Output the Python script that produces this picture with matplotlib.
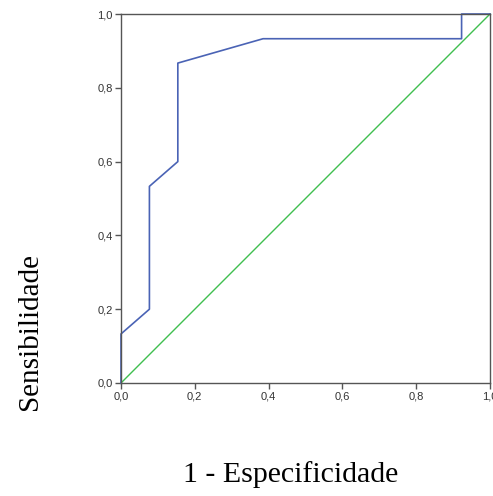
import matplotlib
matplotlib.use("Agg")
import matplotlib.pyplot as plt
from matplotlib.ticker import FuncFormatter

# ROC curve points (1 - specificity, sensitivity)
fpr = [0.0, 0.0, 0.077, 0.077, 0.154, 0.154, 0.385, 0.923, 0.923, 1.0]
tpr = [0.0, 0.133, 0.200, 0.533, 0.600, 0.867, 0.933, 0.933, 1.0, 1.0]

ref_x = [0.0, 1.0]
ref_y = [0.0, 1.0]

ticks = [0.0, 0.2, 0.4, 0.6, 0.8, 1.0]

fig = plt.figure(figsize=(4.93, 4.96), dpi=100)
ax = fig.add_axes([121 / 493, 113 / 496, 369 / 493, 369 / 496])

ax.plot(ref_x, ref_y, color="#3fbf4f", linewidth=1.0, clip_on=False)
ax.plot(fpr, tpr, color="#4a63b5", linewidth=1.2, clip_on=False)

ax.set_xlim(0, 1)
ax.set_ylim(0, 1)
ax.set_xticks(ticks)
ax.set_yticks(ticks)

fmt = FuncFormatter(lambda v, pos: f"{v:.1f}".replace(".", ","))
ax.xaxis.set_major_formatter(fmt)
ax.yaxis.set_major_formatter(fmt)

for side in ["left", "right", "top", "bottom"]:
    ax.spines[side].set_color("#555555")
    ax.spines[side].set_linewidth(1.0)

ax.tick_params(direction="out", length=4, width=1, color="#555555",
               labelsize=8, labelcolor="#333333", pad=2)
for lbl in ax.get_xticklabels() + ax.get_yticklabels():
    lbl.set_family("Liberation Sans")

fig.text(291 / 493, 1 - 475 / 496, "1 - Especificidade", ha="center", va="center",
         family="Liberation Serif", fontsize=21.5)
fig.text(30 / 493, 1 - 331 / 496, "Sensibilidade", ha="center", va="center",
         rotation=90, family="Liberation Serif", fontsize=21)

fig.savefig("out.png", dpi=100)
